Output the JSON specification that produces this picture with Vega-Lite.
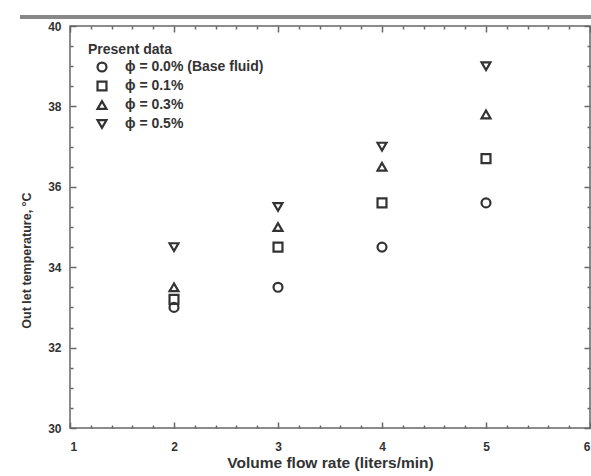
{
  "$schema": "https://vega.github.io/schema/vega-lite/v6.json",
  "autosize": {"type": "none"},
  "padding": {"left": 70, "top": 26, "right": 1, "bottom": 48},
  "width": 520,
  "height": 402,
  "background": "white",
  "config": {
    "view": {"stroke": "#666", "strokeWidth": 1.5},
    "font": "Liberation Sans",
    "axis": {"labelFont": "Liberation Sans", "titleFont": "Liberation Sans", "labelColor": "#333", "titleColor": "#333", "tickColor": "#666", "domain": false, "grid": false}
  },
  "data": {
    "values": [
      {"flow": 2, "temp": 33.0, "phi": "ϕ = 0.0% (Base fluid)"},
      {"flow": 3, "temp": 33.5, "phi": "ϕ = 0.0% (Base fluid)"},
      {"flow": 4, "temp": 34.5, "phi": "ϕ = 0.0% (Base fluid)"},
      {"flow": 5, "temp": 35.6, "phi": "ϕ = 0.0% (Base fluid)"},
      {"flow": 2, "temp": 33.2, "phi": "ϕ = 0.1%"},
      {"flow": 3, "temp": 34.5, "phi": "ϕ = 0.1%"},
      {"flow": 4, "temp": 35.6, "phi": "ϕ = 0.1%"},
      {"flow": 5, "temp": 36.7, "phi": "ϕ = 0.1%"},
      {"flow": 2, "temp": 33.5, "phi": "ϕ = 0.3%"},
      {"flow": 3, "temp": 35.0, "phi": "ϕ = 0.3%"},
      {"flow": 4, "temp": 36.5, "phi": "ϕ = 0.3%"},
      {"flow": 5, "temp": 37.8, "phi": "ϕ = 0.3%"},
      {"flow": 2, "temp": 34.5, "phi": "ϕ = 0.5%"},
      {"flow": 3, "temp": 35.5, "phi": "ϕ = 0.5%"},
      {"flow": 4, "temp": 37.0, "phi": "ϕ = 0.5%"},
      {"flow": 5, "temp": 39.0, "phi": "ϕ = 0.5%"}
    ]
  },
  "resolve": {"axis": {"x": "independent", "y": "independent"}},
  "layer": [
    {
      "mark": {"type": "point", "filled": false, "stroke": "#333", "strokeWidth": 2.2, "size": 80, "opacity": 1},
      "encoding": {
        "x": {"field": "flow", "type": "quantitative", "scale": {"domain": [1, 6], "nice": false, "zero": false},
          "axis": {"orient": "bottom", "values": [1, 2, 3, 4, 5, 6], "ticks": false, "labelPadding": 13, "labelFontSize": 12, "labelFontWeight": "bold", "title": "Volume flow rate (liters/min)", "titleFontSize": 15.5, "titleFontWeight": "bold", "titlePadding": 3}},
        "y": {"field": "temp", "type": "quantitative", "scale": {"domain": [30, 40], "nice": false, "zero": false},
          "axis": {"orient": "left", "values": [30, 32, 34, 36, 38, 40], "ticks": false, "labelPadding": 9, "labelFontSize": 12, "labelFontWeight": "bold", "title": "Out let temperature, °C", "titleFontSize": 12.5, "titleFontWeight": "bold", "titlePadding": 14, "titleY": 234}},
        "shape": {"field": "phi", "type": "nominal",
          "scale": {"domain": ["ϕ = 0.0% (Base fluid)", "ϕ = 0.1%", "ϕ = 0.3%", "ϕ = 0.5%"], "range": ["circle", "square", "triangle-up", "triangle-down"]},
          "legend": {"orient": "none", "legendX": 18, "legendY": 17, "title": "Present data", "titleFontSize": 14, "titleFontWeight": "bold", "titleColor": "#333", "titlePadding": 3, "labelFontSize": 14, "labelFontWeight": "bold", "labelColor": "#333", "symbolOffset": 7, "labelOffset": 16, "rowPadding": 1, "symbolSize": 80, "symbolStrokeWidth": 2.2, "symbolStrokeColor": "#333"}}
      }
    },
    {
      "mark": {"type": "point", "opacity": 0},
      "encoding": {
        "x": {"field": "flow", "type": "quantitative", "scale": {"domain": [1, 6], "nice": false, "zero": false},
          "axis": {"orient": "bottom", "values": [1, 2, 3, 4, 5, 6], "labels": false, "title": null, "tickSize": -6, "tickWidth": 1.5}},
        "y": {"field": "temp", "type": "quantitative", "scale": {"domain": [30, 40], "nice": false, "zero": false},
          "axis": {"orient": "left", "values": [30, 32, 34, 36, 38, 40], "labels": false, "title": null, "tickSize": -6, "tickWidth": 1.5}}
      }
    },
    {
      "mark": {"type": "point", "opacity": 0},
      "encoding": {
        "x": {"field": "flow", "type": "quantitative", "scale": {"domain": [1, 6], "nice": false, "zero": false},
          "axis": {"orient": "bottom", "values": [1.2, 1.4, 1.6, 1.8, 2.2, 2.4, 2.6, 2.8, 3.2, 3.4, 3.6, 3.8, 4.2, 4.4, 4.6, 4.8, 5.2, 5.4, 5.6, 5.8], "labels": false, "title": null, "tickSize": -3, "tickWidth": 1.5}},
        "y": {"field": "temp", "type": "quantitative", "scale": {"domain": [30, 40], "nice": false, "zero": false},
          "axis": {"orient": "left", "values": [30.5, 31, 31.5, 32.5, 33, 33.5, 34.5, 35, 35.5, 36.5, 37, 37.5, 38.5, 39, 39.5], "labels": false, "title": null, "tickSize": -3, "tickWidth": 1.5}}
      }
    },
    {
      "mark": {"type": "point", "opacity": 0},
      "encoding": {
        "x": {"field": "flow", "type": "quantitative", "scale": {"domain": [1, 6], "nice": false, "zero": false},
          "axis": {"orient": "top", "values": [1, 2, 3, 4, 5, 6], "labels": false, "title": null, "tickSize": -6, "tickWidth": 1.5}},
        "y": {"field": "temp", "type": "quantitative", "scale": {"domain": [30, 40], "nice": false, "zero": false},
          "axis": {"orient": "right", "values": [30, 32, 34, 36, 38, 40], "labels": false, "title": null, "tickSize": -6, "tickWidth": 1.5}}
      }
    },
    {
      "mark": {"type": "point", "opacity": 0},
      "encoding": {
        "x": {"field": "flow", "type": "quantitative", "scale": {"domain": [1, 6], "nice": false, "zero": false},
          "axis": {"orient": "top", "values": [1.2, 1.4, 1.6, 1.8, 2.2, 2.4, 2.6, 2.8, 3.2, 3.4, 3.6, 3.8, 4.2, 4.4, 4.6, 4.8, 5.2, 5.4, 5.6, 5.8], "labels": false, "title": null, "tickSize": -3, "tickWidth": 1.5}},
        "y": {"field": "temp", "type": "quantitative", "scale": {"domain": [30, 40], "nice": false, "zero": false},
          "axis": {"orient": "right", "values": [30.5, 31, 31.5, 32.5, 33, 33.5, 34.5, 35, 35.5, 36.5, 37, 37.5, 38.5, 39, 39.5], "labels": false, "title": null, "tickSize": -3, "tickWidth": 1.5}}
      }
    },
    {
      "mark": {"type": "rule", "color": "#888", "strokeWidth": 3, "clip": false},
      "encoding": {
        "x": {"datum": 0.52, "type": "quantitative", "axis": null},
        "x2": {"datum": 6.2},
        "y": {"datum": 40.22, "type": "quantitative", "axis": null}
      }
    }
  ]
}
